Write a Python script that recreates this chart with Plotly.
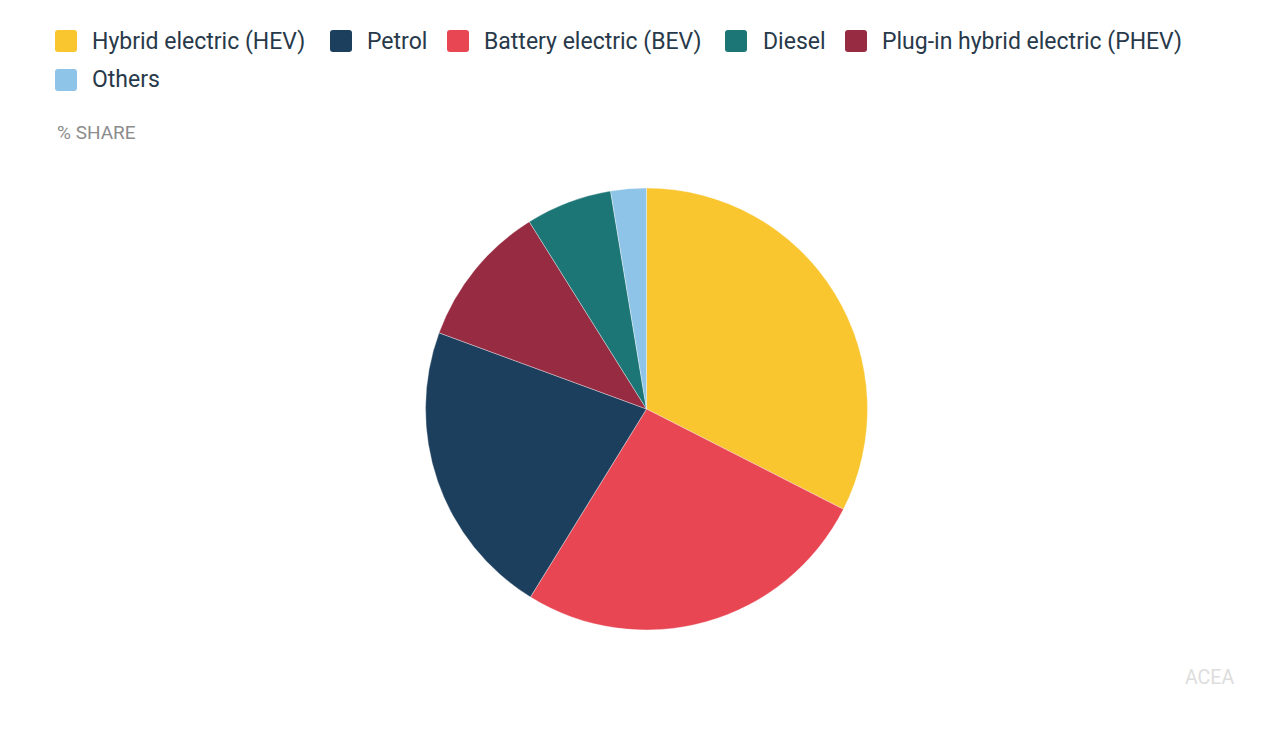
import plotly.graph_objects as go

# Data (pie order, clockwise from 12 o'clock)
categories = ["Hybrid electric (HEV)", "Battery electric (BEV)", "Petrol",
              "Plug-in hybrid electric (PHEV)", "Diesel", "Others"]
shares = [32.5, 26.3, 21.8, 10.5, 6.3, 2.6]
colors = ["#F9C62F", "#E84653", "#1D3F5E", "#962B42", "#1C7675", "#8EC4E7"]

# Legend order as in reference
legend_labels = ["Hybrid electric (HEV)", "Petrol", "Battery electric (BEV)",
                 "Diesel", "Plug-in hybrid electric (PHEV)", "Others"]
color_map = dict(zip(categories, colors))

OFF = 8  # page body margin
W, H = 1280 - 2 * OFF, 743 - 2 * OFF


def px(x):
    return (x - OFF) / W


def py(y):
    return 1 - (y - OFF) / H


def rounded_square(x0p, y0p, size, r):
    # pixel coords (top-left), returns SVG path in paper coords
    x1p, y1p = x0p + size, y0p + size
    pts = []
    pts.append(f"M{px(x0p + r)},{py(y0p)}")
    pts.append(f"L{px(x1p - r)},{py(y0p)}")
    pts.append(f"Q{px(x1p)},{py(y0p)} {px(x1p)},{py(y0p + r)}")
    pts.append(f"L{px(x1p)},{py(y1p - r)}")
    pts.append(f"Q{px(x1p)},{py(y1p)} {px(x1p - r)},{py(y1p)}")
    pts.append(f"L{px(x0p + r)},{py(y1p)}")
    pts.append(f"Q{px(x0p)},{py(y1p)} {px(x0p)},{py(y1p - r)}")
    pts.append(f"L{px(x0p)},{py(y0p + r)}")
    pts.append(f"Q{px(x0p)},{py(y0p)} {px(x0p + r)},{py(y0p)}")
    pts.append("Z")
    return " ".join(pts)


fig = go.Figure()
fig.add_trace(go.Pie(
    labels=categories,
    values=shares,
    sort=False,
    direction="clockwise",
    rotation=0,
    marker=dict(colors=colors, line=dict(color="rgba(255,255,255,0.6)", width=0.6)),
    textinfo="none",
    hoverinfo="label+percent",
    showlegend=False,
    domain=dict(x=[px(425), px(868)], y=[py(630), py(188)]),
))

# Manual legend (pixel layout)
legend_pos = [  # (square_left_px, center_y_px, text_left_px)
    (55, 41, 90),
    (330, 41, 365),
    (447, 41, 482),
    (725, 41, 761),
    (845, 41, 880),
    (55, 80, 90),
]
shapes = []
annotations = []
for lab, (sx, cy, tx) in zip(legend_labels, legend_pos):
    s = 22
    shapes.append(dict(
        type="path", xref="paper", yref="paper",
        path=rounded_square(sx, cy - s / 2, s, 3),
        fillcolor=color_map[lab], line=dict(width=0),
    ))
    annotations.append(dict(
        x=px(tx), y=py(cy), xref="paper", yref="paper",
        text=lab, showarrow=False, xanchor="left", yanchor="middle",
        font=dict(family="Roboto", size=23, color="#28394A"),
    ))

annotations.append(dict(
    x=px(55), y=py(132), xref="paper", yref="paper",
    text="% SHARE", showarrow=False, xanchor="left", yanchor="middle",
    font=dict(family="Roboto", size=19, color="#8C8C8C"),
))
annotations.append(dict(
    x=px(1236), y=py(677), xref="paper", yref="paper",
    text="ACEA", showarrow=False, xanchor="right", yanchor="middle",
    font=dict(family="Roboto", size=19.5, color="#DDDDDD"),
))

fig.update_layout(
    width=W, height=H,
    margin=dict(l=0, r=0, t=0, b=0),
    paper_bgcolor="white",
    plot_bgcolor="white",
    shapes=shapes,
    annotations=annotations,
)

fig.write_html("out.html")
